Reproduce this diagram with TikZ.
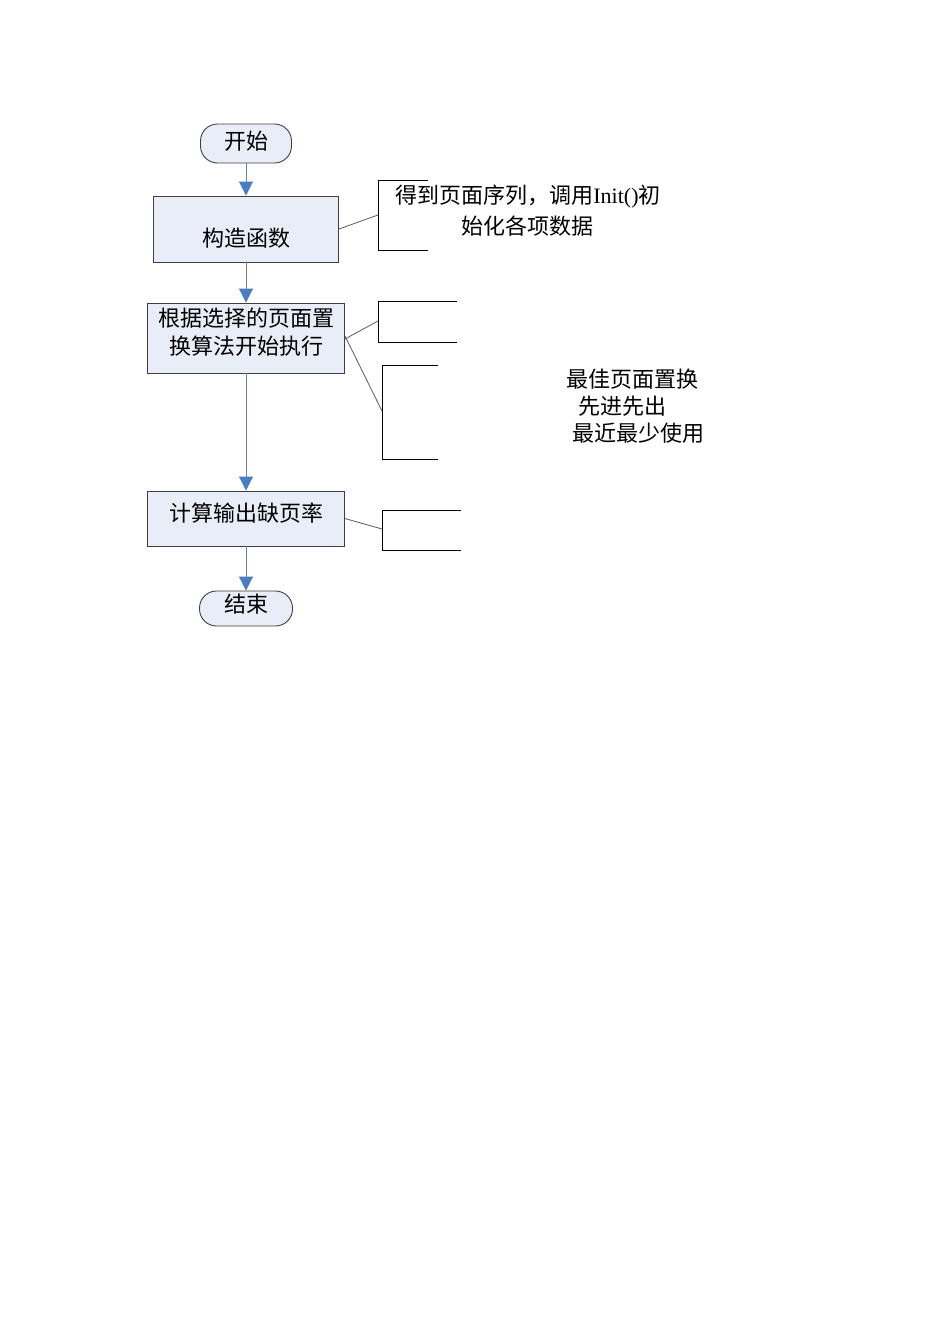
\documentclass[tikz,border=0pt]{standalone}
\usepackage{fontspec}
\setmainfont{Liberation Serif}
\newfontfamily\cjk{Noto Sans CJK SC}
\usetikzlibrary{arrows.meta}
\definecolor{boxfill}{HTML}{E9EDF8}
\definecolor{boxline}{HTML}{3F3F3F}
\definecolor{arrowblue}{HTML}{4A7EC4}
\definecolor{flowline}{HTML}{6E7F9E}
\definecolor{linkgray}{HTML}{5A5A5A}
\newcommand{\vshift}[2]{\raisebox{#1}[\height][\depth]{#2}}
\begin{document}
\begin{tikzpicture}[x=1pt,y=-1pt,
  txt/.style={font=\cjk\fontsize{22}{28}\selectfont, inner sep=0pt},
  proc/.style={txt, draw=boxline, fill=boxfill, line width=0.9pt, align=center},
  term/.style={proc, rounded corners=17pt},
  flow/.style={draw=flowline, line width=0.9pt, -{Triangle[width=14pt,length=14pt,color=arrowblue]}},
  bracket/.style={draw=black, line width=0.8pt},
  link/.style={draw=linkgray, line width=0.8pt}]
\useasboundingbox (0,0) rectangle (950,1344);
\fill[white] (0,0) rectangle (950,1344);

% flow nodes
\node[term, minimum width=91pt, minimum height=39pt] (start) at (246,143.5) {\vshift{2.5pt}{开始}};
\node[proc, minimum width=185pt, minimum height=66pt] (c1) at (246,229) {\vshift{-9pt}{构造函数}};
\node[proc, minimum width=197pt, minimum height=70pt] (c2) at (246,338) {\vshift{3.5pt}{\begin{tabular}{@{}c@{}}根据选择的页面置\\[0pt]换算法开始执行\end{tabular}}};
\node[proc, minimum width=197pt, minimum height=55pt] (c3) at (246,518.5) {\vshift{5pt}{计算输出缺页率}};
\node[term, minimum width=93pt, minimum height=35pt] (end) at (246,608.5) {\vshift{4pt}{结束}};

\draw[flow] (start) -- (c1);
\draw[flow] (c1) -- (c2);
\draw[flow] (c2) -- (c3);
\draw[flow] (c3) -- (end);

% annotation brackets
\draw[bracket] (428,180) -| (378,250) -- (428,250);
\coordinate (b1) at (378,215);
\draw[bracket] (457,301) -| (378,342) -- (457,342);
\coordinate (b2) at (378,321);
\draw[bracket] (438,365) -| (382,459) -- (438,459);
\coordinate (b3) at (382,411);
\draw[bracket] (461,510) -| (382,550) -- (461,550);
\coordinate (b4) at (382,529);

\draw[link] (c1.east) -- (b1);
\draw[link] ([yshift=-1pt]c2.east) -- (b2);
\draw[link] ([yshift=2pt]c2.east) -- (b3);
\draw[link] (c3.east) -- (b4);

% annotation texts
\node[txt] (n1a) at (528,197) {得到页面序列，调用{\rmfamily Init()}初};
\node[txt] (n1b) at (527.5,226) {始化各项数据};
\node[txt, anchor=west] (n3a) at (566,379) {最佳页面置换};
\node[txt, anchor=west] (n3b) at (578,406) {先进先出};
\node[txt, anchor=west] (n3c) at (572,433) {最近最少使用};
\end{tikzpicture}
\end{document}
